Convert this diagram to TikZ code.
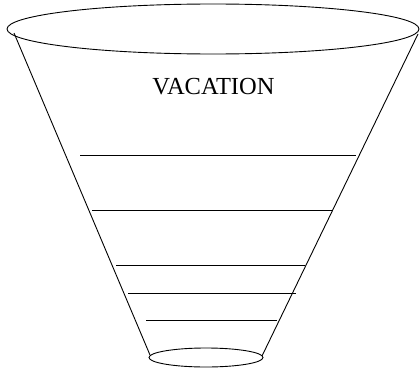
\documentclass[tikz,border=0pt]{standalone}
\usepackage{fontspec}
\setmainfont{Liberation Serif}
\usepackage{tikz}
\usetikzlibrary{positioning}

\begin{document}
\begin{tikzpicture}[x=1pt, y=-1pt, line width=0.9pt]
            \useasboundingbox (0,0) rectangle (420,372);
            % rims of the funnel
            \draw (213,29) ellipse [x radius=206, y radius=25];
            \draw (206,357.5) ellipse [x radius=57, y radius=9.5];
            \coordinate (tl) at (14,33);
            \coordinate (tr) at (418,34);
            \coordinate (bl) at (150,355);
            \coordinate (br) at (262,356);
            \draw (tl) -- (bl);
            \draw (tr) -- (br);
            \node[font=\fontsize{24.5}{29}\selectfont] (title) at (213.5,86.5) {VACATION};
            % levels
            \foreach \y/\a/\b in {155/80/356, 210/92/333, 265/116/305, 293/128/296, 320/146/277}
                \draw[line width=0.8pt] (\a,\y) -- (\b,\y);
        \end{tikzpicture}
\end{document}
